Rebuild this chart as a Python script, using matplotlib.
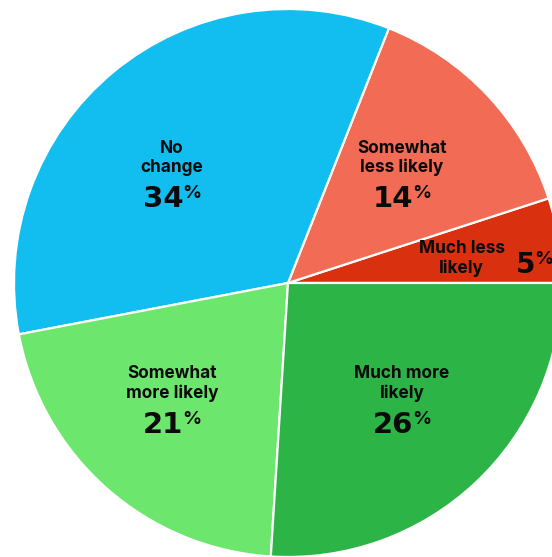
import numpy as np
import matplotlib
matplotlib.use("Agg")
import matplotlib.pyplot as plt

# ---- data ----
categories = ["Much less\nlikely", "Somewhat\nless likely", "No\nchange",
              "Somewhat\nmore likely", "Much more\nlikely"]
values = [5, 14, 34, 21, 26]
colors = ["#D9300F", "#F26C55", "#12BEEF", "#6CE66C", "#2DB446"]

# ---- style / layout ----
W, H = 552, 557
CX, CY = 288, H - 283
R = 274
angle_offsets = [-5.7, 1.0, 6.7, -3.9, 1.6]
radius_fracs = [0.635, 0.58, 0.586, 0.595, 0.59]
NAME_FONT = "Inter"
NUM_FONT = "DejaVu Sans"
TXT = "#0A0A0A"

fig = plt.figure(figsize=(W / 100, H / 100), dpi=100)
ax = fig.add_axes([0, 0, 1, 1])
wedges, _ = ax.pie(values, colors=colors, startangle=0, counterclock=True,
                   center=(CX, CY), radius=R, frame=True,
                   wedgeprops=dict(edgecolor="white", linewidth=1.6))
ax.set_xlim(0, W)
ax.set_ylim(0, H)
ax.set_aspect("equal")
ax.axis("off")

for w, name, val, off, rf in zip(wedges, categories, values, angle_offsets, radius_fracs):
    mid = (w.theta1 + w.theta2) / 2 + off
    lx = CX + rf * R * np.cos(np.radians(mid))
    ly = CY + rf * R * np.sin(np.radians(mid))
    ax.text(lx, ly - 4, name, ha="center", va="bottom", fontsize=12.4,
            fontweight="bold", family=NAME_FONT, linespacing=1.15, color=TXT)
    if val < 8:
        num = ax.text(lx + 54, ly + 22, f"{val}", ha="left", va="top",
                      fontsize=20, fontweight="bold", family=NUM_FONT, color=TXT)
    else:
        num = ax.text(lx - 9, ly - 13, f"{val}", ha="center", va="top",
                      fontsize=21, fontweight="bold", family=NUM_FONT, color=TXT)
    ax.annotate("%", xy=(1, 1), xycoords=num, xytext=(-0.5, 0),
                textcoords="offset points", ha="left", va="top",
                fontsize=13.5, fontweight="bold", family=NAME_FONT, color=TXT)

fig.savefig("out.png", dpi=100, facecolor="white")
